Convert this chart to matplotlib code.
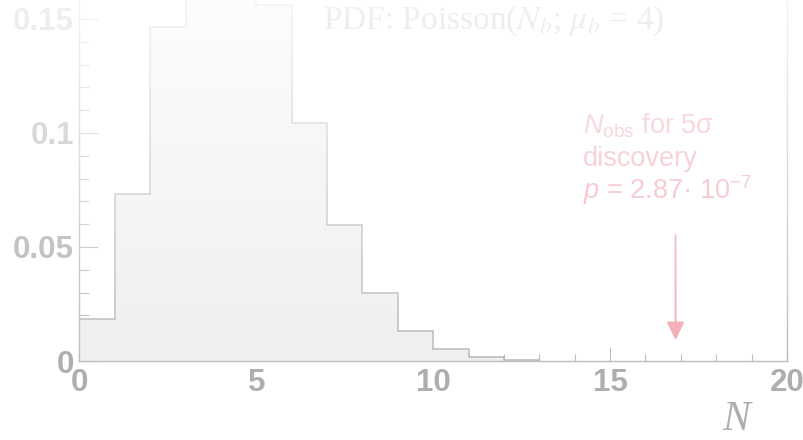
import numpy as np
import matplotlib
matplotlib.use("Agg")
import matplotlib.pyplot as plt
from matplotlib.ticker import MultipleLocator, FixedLocator, FixedFormatter

# ---------------- data ----------------
bin_edges = [0, 1, 2, 3, 4, 5, 6, 7, 8, 9, 10, 11, 12, 13]
pdf_values = [0.0183, 0.0733, 0.1465, 0.1954, 0.1954, 0.1563, 0.1042,
              0.0595, 0.0298, 0.0132, 0.0053, 0.0019, 0.0006]
x_ticks = [0, 5, 10, 15, 20]
x_tick_labels = ["0", "5", "10", "15", "20"]
y_ticks = [0, 0.05, 0.1, 0.15]
y_tick_labels = ["0", "0.05", "0.1", "0.15"]
arrow_x = 16.85
arrow_y_start = 0.0553
arrow_y_end = 0.0092
title_text = r"PDF: Poisson($N_b$; $\mu_b$ = 4)"
note_lines = [r"$N_{\mathrm{obs}}$ for 5σ", "discovery", r"$p$ = 2.87· 10$^{-7}$"]

# ---------------- style ----------------
W, H = 804, 440
gray = "#aeaeae"
edge = "#b8b8b8"
fill = "#efefef"
pink = "#f1aab2"

plt.rcParams["mathtext.fontset"] = "custom"
plt.rcParams["mathtext.rm"] = "Liberation Sans"
plt.rcParams["mathtext.it"] = "Liberation Sans:italic"
plt.rcParams["mathtext.bf"] = "Liberation Sans:bold"

fig = plt.figure(figsize=(W / 100, H / 100), dpi=100)
x0, x1 = 79.5, 787.0
y0 = 361.0
px_per_unit = 2280.0
ax = fig.add_axes([x0 / W, 1 - y0 / H, (x1 - x0) / W, y0 / H])
ax.set_xlim(0, 20)
ax.set_ylim(0, y0 / px_per_unit)
ax.set_facecolor("none")

ax.stairs(pdf_values, bin_edges, fill=True, color=fill, zorder=2)
ax.stairs(pdf_values, bin_edges, fill=False, color=edge, linewidth=1.1,
          baseline=None, zorder=2.5)

for s in ["left", "right", "bottom"]:
    ax.spines[s].set_color("#bdbdbd")
    ax.spines[s].set_linewidth(1.0)
    ax.spines[s].set_zorder(3)
ax.spines["top"].set_visible(False)

ax.xaxis.set_major_locator(FixedLocator(x_ticks))
ax.xaxis.set_major_formatter(FixedFormatter(x_tick_labels))
ax.xaxis.set_minor_locator(MultipleLocator(1))
ax.yaxis.set_major_locator(FixedLocator(y_ticks))
ax.yaxis.set_major_formatter(FixedFormatter(y_tick_labels))
ax.yaxis.set_minor_locator(MultipleLocator(0.01))

ax.tick_params(axis="x", which="major", direction="in", length=10, width=0.8,
               color="#bdbdbd", pad=5, labelcolor=gray, labelsize=22.5)
ax.tick_params(axis="x", which="minor", direction="in", length=5, width=0.8,
               color="#bdbdbd")
ax.tick_params(axis="y", which="major", direction="in", length=14, width=0.8,
               color="#bdbdbd", pad=4, labelcolor=gray, labelsize=22.5)
ax.tick_params(axis="y", which="minor", direction="in", length=7, width=0.8,
               color="#bdbdbd")
for lab in ax.get_xticklabels() + ax.get_yticklabels():
    lab.set_fontfamily("Liberation Sans")
    lab.set_fontweight("bold")

# arrow
ax.annotate("", xy=(arrow_x, arrow_y_end), xytext=(arrow_x, arrow_y_start),
            arrowprops=dict(arrowstyle="-|>,head_length=0.55,head_width=0.27",
                            mutation_scale=20, color=pink, lw=1.4,
                            shrinkA=0, shrinkB=0), zorder=3)

# annotation text
baselines = [133, 166, 199]
for line, yb in zip(note_lines, baselines):
    fig.text(583 / W, 1 - yb / H, line, ha="left", va="baseline",
             fontsize=19.5, color=pink, family="Liberation Sans",
             math_fontfamily="custom")

# title
fig.text(494 / W, 1 - 29 / H, title_text, ha="center", va="baseline",
         fontsize=24, color=gray, family="Liberation Serif",
         math_fontfamily="stix")

# axis label
fig.text(736 / W, 1 - 439 / H, "N", ha="center", va="bottom",
         fontsize=30, color=gray, family="Liberation Serif", style="italic")

# fade overlay towards the top
rows = np.arange(H)
alpha = np.clip(0.85 * (y0 - rows) / y0, 0, 1)
rgba = np.ones((H, 1, 4))
rgba[:, 0, 3] = alpha
ov = fig.add_axes([0, 0, 1, 1], zorder=10)
ov.imshow(rgba, extent=(0, 1, 0, 1), aspect="auto", origin="upper",
          interpolation="bilinear")
ov.axis("off")

fig.savefig("out.png", dpi=100)
